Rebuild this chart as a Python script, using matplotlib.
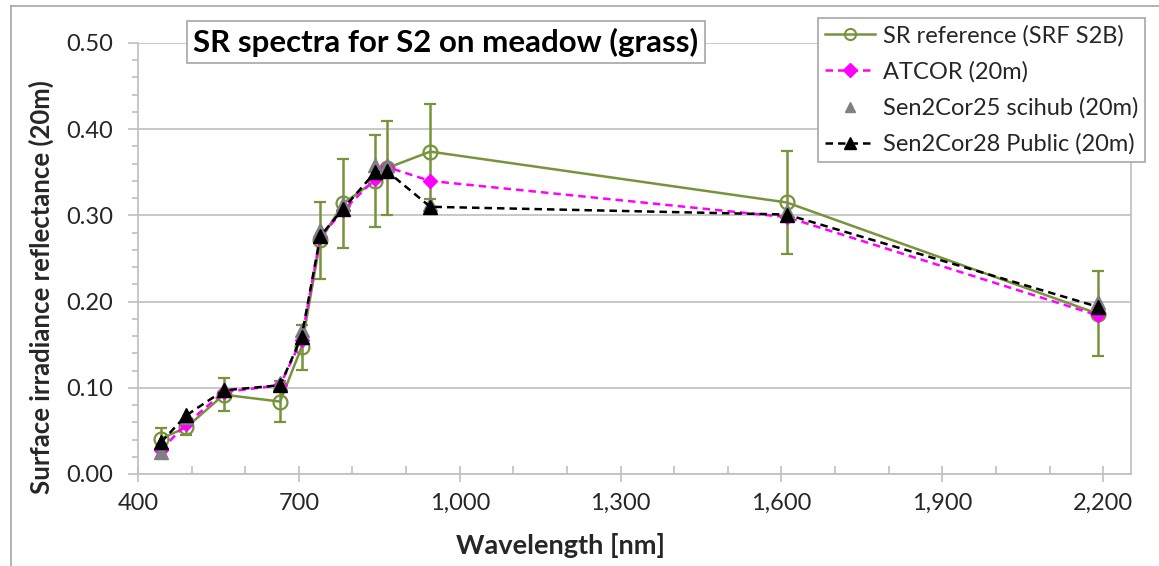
import numpy as np
import matplotlib
matplotlib.use("Agg")
import matplotlib.pyplot as plt
from matplotlib.ticker import MultipleLocator, FixedLocator, FuncFormatter
from matplotlib.lines import Line2D

plt.rcParams['font.family'] = ['Lato', 'DejaVu Sans']

# S2 band centre wavelengths (nm) used for the 20m product
wavelength = [443, 490, 560, 665, 705, 740, 783, 842, 865, 945, 1610, 2190]

# surface reflectance values
sr_ref = [0.041, 0.054, 0.092, 0.084, 0.147, 0.271, 0.314, 0.340, 0.355, 0.374, 0.315, 0.186]
sr_err = [0.012, 0.009, 0.019, 0.024, 0.026, 0.045, 0.052, 0.053, 0.055, 0.055, 0.060, 0.049]
atcor = [0.028, 0.058, 0.095, 0.103, 0.156, 0.275, 0.306, 0.342, 0.356, 0.340, 0.298, 0.184]
sen2cor25 = [0.026, 0.066, 0.099, 0.106, 0.167, 0.283, 0.313, 0.359, 0.359, 0.313, 0.305, 0.200]
sen2cor28 = [0.037, 0.068, 0.097, 0.103, 0.159, 0.276, 0.308, 0.350, 0.351, 0.310, 0.301, 0.194]

x_ticks = [400, 700, 1000, 1300, 1600, 1900, 2200]

green = '#77933C'
gray_ax = '#BFBFBF'
txt = '#262626'

fig = plt.figure(figsize=(11.59, 5.66), dpi=100)
ax = fig.add_axes([138 / 1159, 1 - 474 / 566, (1131 - 138) / 1159, (474 - 43) / 566])

# reference with error bars
ax.errorbar(wavelength, sr_ref, yerr=sr_err, color=green, lw=1.8, marker='o', ms=10,
            mfc='none', mec=green, mew=1.6, ecolor=green, elinewidth=1.8, capsize=4.5,
            capthick=1.8, zorder=3)
ax.plot(wavelength, atcor, color='#FF00FF', lw=1.8, ls=(0, (3, 2)), marker='D', ms=7.5, zorder=4)
ax.plot(wavelength, sen2cor25, ls='none', marker='^', ms=10, color='#808080', zorder=5)
ax.plot(wavelength, sen2cor28, color='black', lw=1.8, ls=(0, (3, 2)), marker='^', ms=9.5, zorder=6)

ax.set_xlim(400, 2252)
ax.set_ylim(0, 0.5)
ax.xaxis.set_major_locator(FixedLocator(x_ticks))
ax.xaxis.set_minor_locator(FixedLocator(np.arange(400, 2201, 100)))
ax.yaxis.set_major_locator(MultipleLocator(0.1))
ax.yaxis.set_minor_locator(MultipleLocator(0.02))
ax.xaxis.set_major_formatter(FuncFormatter(lambda v, p: f'{v:,.0f}'))
ax.yaxis.set_major_formatter(FuncFormatter(lambda v, p: f'{v:.2f}'))

ax.grid(axis='y', which='major', color=gray_ax, lw=1.2, zorder=0)
ax.set_axisbelow(True)
for s in ['left', 'bottom', 'right']:
    ax.spines[s].set_color(gray_ax)
    ax.spines[s].set_linewidth(1.2)
ax.spines['top'].set_visible(False)

ax.tick_params(axis='x', which='major', direction='inout', length=11, width=1.2,
               color=gray_ax, labelsize=17, labelcolor=txt, pad=8)
ax.tick_params(axis='x', which='minor', direction='in', length=5.5, width=1.2, color=gray_ax)
ax.tick_params(axis='y', which='major', direction='out', length=7, width=1.2,
               color=gray_ax, labelsize=17, labelcolor=txt, pad=11)
ax.tick_params(axis='y', which='minor', direction='out', length=4.5, width=1.2, color=gray_ax)
ax.tick_params(right=False, top=False, which='both')

fig.text(560 / 1159, 1 - 545 / 566, 'Wavelength [nm]', ha='center', va='center',
         fontsize=19.5, fontweight='bold', color=txt)
fig.text(41 / 1159, 1 - 287 / 566, 'Surface irradiance reflectance (20m)', rotation=90,
         ha='center', va='center', fontsize=18.5, fontweight='bold', color=txt)

fig.text(446 / 1159, 1 - 42 / 566, 'SR spectra for S2 on meadow (grass)',
         fontsize=22.5, fontweight='bold', color='black', ha='center', va='center',
         bbox=dict(boxstyle='square,pad=0.2', fc='white', ec='#A6A6A6', lw=1.2), zorder=10)

# legend handles (no error bar in the key)
handles = [
    Line2D([], [], color=green, lw=1.8, marker='o', ms=8, mfc='none', mec=green, mew=1.5),
    Line2D([], [], color='#FF00FF', lw=1.8, ls=(0, (3, 2)), marker='D', ms=7),
    Line2D([], [], ls='none', marker='^', ms=6.5, color='#808080'),
    Line2D([], [], color='black', lw=1.8, ls=(0, (3, 2)), marker='^', ms=8),
]
labels = ['SR reference (SRF S2B)', 'ATCOR (20m)', 'Sen2Cor25 scihub (20m)', 'Sen2Cor28 Public (20m)']
leg = fig.legend(handles, labels, loc='upper left', bbox_to_anchor=(818 / 1159, 1 - 18 / 566),
                 borderaxespad=0, fontsize=17, frameon=True, fancybox=False,
                 framealpha=1, edgecolor='#A6A6A6', handlelength=2.1, handletextpad=0.35,
                 labelspacing=0.62, borderpad=0.3, labelcolor=txt)
leg.get_frame().set_linewidth(1.2)
leg.set_zorder(20)

# outer chart frame (left and top edges visible in the reference)
fig.add_artist(Line2D([11 / 1159, 11 / 1159], [0, 1 - 6 / 566], color='#A6A6A6', lw=1.2))
fig.add_artist(Line2D([11 / 1159, 1], [1 - 6 / 566, 1 - 6 / 566], color='#A6A6A6', lw=1.2))

fig.savefig('out.png', dpi=100)
